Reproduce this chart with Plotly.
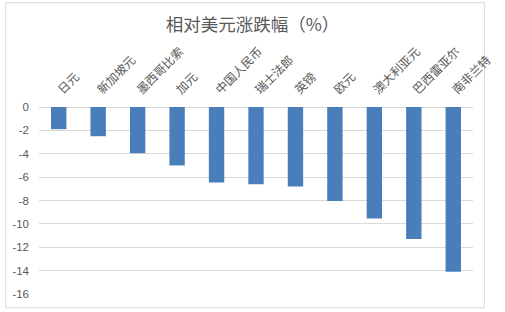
import plotly.graph_objects as go

categories = ["日元", "新加坡元", "墨西哥比索", "加元", "中国人民币", "瑞士法郎",
              "英镑", "欧元", "澳大利亚元", "巴西雷亚尔", "南非兰特"]
changes = [-1.9, -2.5, -3.95, -5.0, -6.45, -6.6, -6.8, -8.05, -9.55, -11.3, -14.1]
y_tick_vals = [0, -2, -4, -6, -8, -10, -12, -14, -16]
y_tick_text = ["0", "-2", "-4", "-6", "-8", "-10", "-12", "-14", "-16"]
title_text = "相对美元涨跌幅（%）"

W, H = 505, 312
L, R, T, B = 36, 13, 107, 15
pw, ph = W - L - R, H - T - B

fig = go.Figure(go.Bar(
    x=categories, y=changes,
    marker=dict(color="#4A7EBB", line=dict(width=0)),
    width=0.39,
))

fig.update_layout(
    width=W, height=H,
    margin=dict(l=L, r=R, t=T, b=B, pad=0),
    paper_bgcolor="white", plot_bgcolor="white",
    showlegend=False,
    font=dict(family="Noto Sans CJK SC", color="#595959"),
    title=dict(text=title_text, x=0.5, xanchor="center", y=1 - 25 / H, yanchor="middle",
               font=dict(size=17.5, color="#595959", family="Noto Sans CJK SC")),
    xaxis=dict(side="top", tickangle=-45, showgrid=False, showline=False, ticks="",
               ticklabelstandoff=7,
               tickfont=dict(size=12, color="#595959"), range=[-0.5, 10.5]),
    yaxis=dict(range=[-16, 0], tickvals=y_tick_vals, ticktext=y_tick_text,
               showgrid=True, gridcolor="#D9D9D9", gridwidth=1,
               zeroline=True, zerolinecolor="#D9D9D9", zerolinewidth=1,
               showline=False, ticks="", ticklen=0, ticklabelstandoff=9,
               tickfont=dict(size=11.5, color="#595959", family="Liberation Sans")),
    shapes=[dict(type="rect", xref="paper", yref="paper",
                 x0=(1 - L) / pw, x1=1 + (R - 1) / pw,
                 y0=-(B - 1) / ph, y1=1 + (T - 1) / ph,
                 line=dict(color="#D9D9D9", width=1), layer="below")],
)

fig.write_html("out.html")
